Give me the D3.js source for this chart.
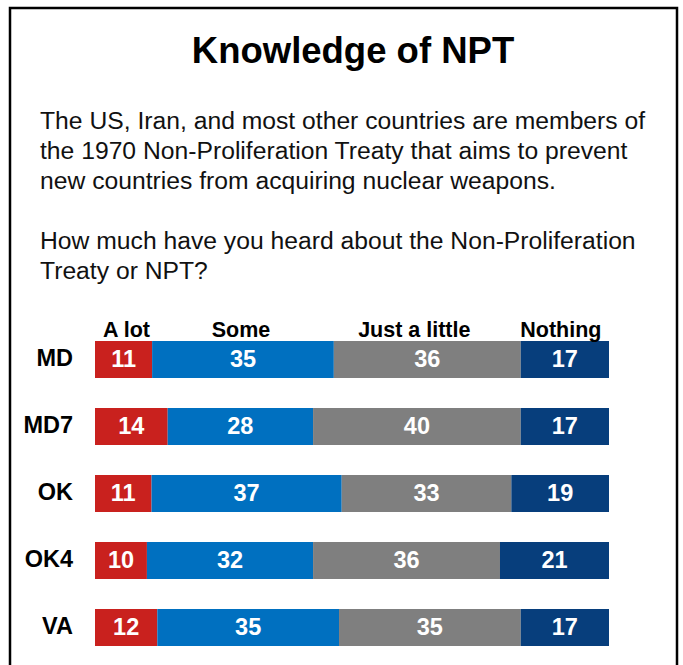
<!DOCTYPE html>
<html>
<head>
<meta charset="utf-8">
<script src="https://cdn.jsdelivr.net/npm/d3@7"></script>
<style>
  body { margin: 0; background: #fff; }
  svg text { font-family: "Liberation Sans", Arial, sans-serif; }
</style>
</head>
<body>
<div id="chart"></div>
<script>
var rows = ['MD', 'MD7', 'OK', 'OK4', 'VA'];
var answers = ['A lot', 'Some', 'Just a little', 'Nothing'];
var aLot = [11, 14, 11, 10, 12];
var some = [35, 28, 37, 32, 35];
var justALittle = [36, 40, 33, 36, 35];
var nothing = [17, 17, 19, 21, 17];
var colors = ['#C9211E', '#0070C0', '#7F7F7F', '#073E7C'];

var title = 'Knowledge of NPT';
var intro = [
  'The US, Iran, and most other countries are members of',
  'the 1970 Non-Proliferation Treaty that aims to prevent',
  'new countries from acquiring nuclear weapons.'
];
var question = [
  'How much have you heard about the Non-Proliferation',
  'Treaty or NPT?'
];

var width = 683, height = 665;

var svg = d3.select('#chart').append('svg')
  .attr('width', width)
  .attr('height', height);

// frame, open at the bottom
svg.append('path')
  .attr('d', 'M10,' + height + 'V8H677V' + height)
  .attr('fill', 'none')
  .attr('stroke', '#000')
  .attr('stroke-width', 2.5);

svg.append('text')
  .attr('x', 353).attr('y', 62.5)
  .attr('text-anchor', 'middle')
  .attr('font-size', 36.5).attr('font-weight', 'bold')
  .text(title);

svg.selectAll('.intro').data(intro).enter().append('text')
  .attr('x', 40).attr('y', function(d, i) { return 129 + i * 30; })
  .attr('font-size', 24.7).attr('fill', '#111')
  .text(function(d) { return d; });

svg.selectAll('.question').data(question).enter().append('text')
  .attr('x', 40).attr('y', function(d, i) { return 248.5 + i * 30; })
  .attr('font-size', 24.7).attr('fill', '#111')
  .text(function(d) { return d; });

var table = rows.map(function(r, i) {
  return { row: r, values: [aLot[i], some[i], justALittle[i], nothing[i]] };
});

var x = d3.scaleLinear().domain([0, 1]).range([95, 609]);
var y = d3.scaleBand().domain(rows)
  .range([341, 341 + 67 * 4 + 37])
  .paddingInner(30 / 67).paddingOuter(0);

table.forEach(function(d) {
  var total = d3.sum(d.values);
  var acc = 0;
  d.segs = d.values.map(function(v, j) {
    var s = { row: d.row, value: v, j: j, x0: acc / total, x1: (acc + v) / total };
    acc += v;
    return s;
  });
});

var rowG = svg.selectAll('.row').data(table).enter().append('g')
  .attr('transform', function(d) { return 'translate(0,' + y(d.row) + ')'; });

rowG.append('text')
  .attr('x', 73).attr('y', 24.5)
  .attr('text-anchor', 'end')
  .attr('font-size', 23.5).attr('font-weight', 'bold')
  .text(function(d) { return d.row; });

var seg = rowG.selectAll('.seg').data(function(d) { return d.segs; }).enter();

seg.append('rect')
  .attr('x', function(d) { return x(d.x0); })
  .attr('width', function(d) { return x(d.x1) - x(d.x0); })
  .attr('height', y.bandwidth())
  .attr('fill', function(d) { return colors[d.j]; });

seg.append('text')
  .attr('x', function(d) { return (x(d.x0) + x(d.x1)) / 2; })
  .attr('y', 25.5)
  .attr('text-anchor', 'middle')
  .attr('font-size', 23.5).attr('font-weight', 'bold')
  .attr('fill', '#fff')
  .text(function(d) { return d.value; });

// answer headers above the first bar
var first = table[0].segs;
var headerShift = [3, -2, -13, -4];
svg.selectAll('.hdr').data(answers).enter().append('text')
  .attr('x', function(d, j) { return (x(first[j].x0) + x(first[j].x1)) / 2 + headerShift[j]; })
  .attr('y', 336.5)
  .attr('text-anchor', 'middle')
  .attr('font-size', 21.5).attr('font-weight', 'bold')
  .text(function(d) { return d; });
</script>
</body>
</html>
